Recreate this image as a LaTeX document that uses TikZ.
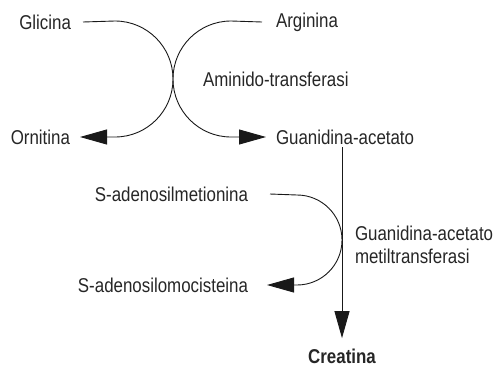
\documentclass[tikz,border=0pt]{standalone}
\usepackage{fontspec}
\setmainfont{Liberation Sans}[FakeStretch=0.845]
\usetikzlibrary{arrows.meta}
\tikzset{
	lbl/.style={inner xsep=10pt, inner ysep=3pt, outer sep=0pt, text=black!85, font=\fontsize{20}{23}\selectfont},
	rxn/.style={line width=0.9pt, draw=black!90, -{Triangle[length=27pt, width=15pt]}}
}
\begin{document}
\begin{tikzpicture}[x=1pt, y=1pt]
		\useasboundingbox (0,0) rectangle (495,-367);
		\node[lbl, anchor=east] (gly) at (81,-22) {Glicina};
		\node[lbl, anchor=west] (arg) at (266,-22) {Arginina};
		\node[lbl, anchor=east] (orn) at (80,-137) {Ornitina};
		\node[lbl, anchor=west] (gaa) at (266,-137) {Guanidina-acetato};
		\node[lbl, anchor=west] at (193,-79) (agat) {Aminido-transferasi};
		\node[lbl, anchor=east] (sam) at (258,-194) {S-adenosilmetionina};
		\node[lbl, anchor=east] (sah) at (258,-285) {S-adenosilomocisteina};
		\node[lbl, anchor=west, align=left] (gamt) at (345,-245) {Guanidina-acetato\\metiltransferasi};
		\node[lbl, inner ysep=0pt, outer ysep=11pt, font=\fontsize{20}{23}\selectfont\bfseries] (crea) at (342,-356.5) {Creatina};
		\coordinate (gtop) at (115,-21);
		\coordinate (atop) at (231,-21);
		\coordinate (stop) at (297,-195);
		% glicina -> ornitina, arginina -> guanidina-acetato
		\draw[rxn] ([xshift=2pt]gly.east) -- (gtop) arc[start angle=90, end angle=-90, radius=58] -- (orn.east);
		\draw[rxn] ([xshift=-4pt]arg.west) -- (atop) arc[start angle=90, end angle=270, radius=58] -- (gaa.west);
		% metilazione
		\draw[rxn] (crea |- gaa.south) -- (crea.north);
		\draw[rxn] ([xshift=12pt]sam.east) -- (stop) arc[start angle=90, end angle=-90, radius=45] -- ([xshift=9pt]sah.east);
	\end{tikzpicture}
\end{document}
